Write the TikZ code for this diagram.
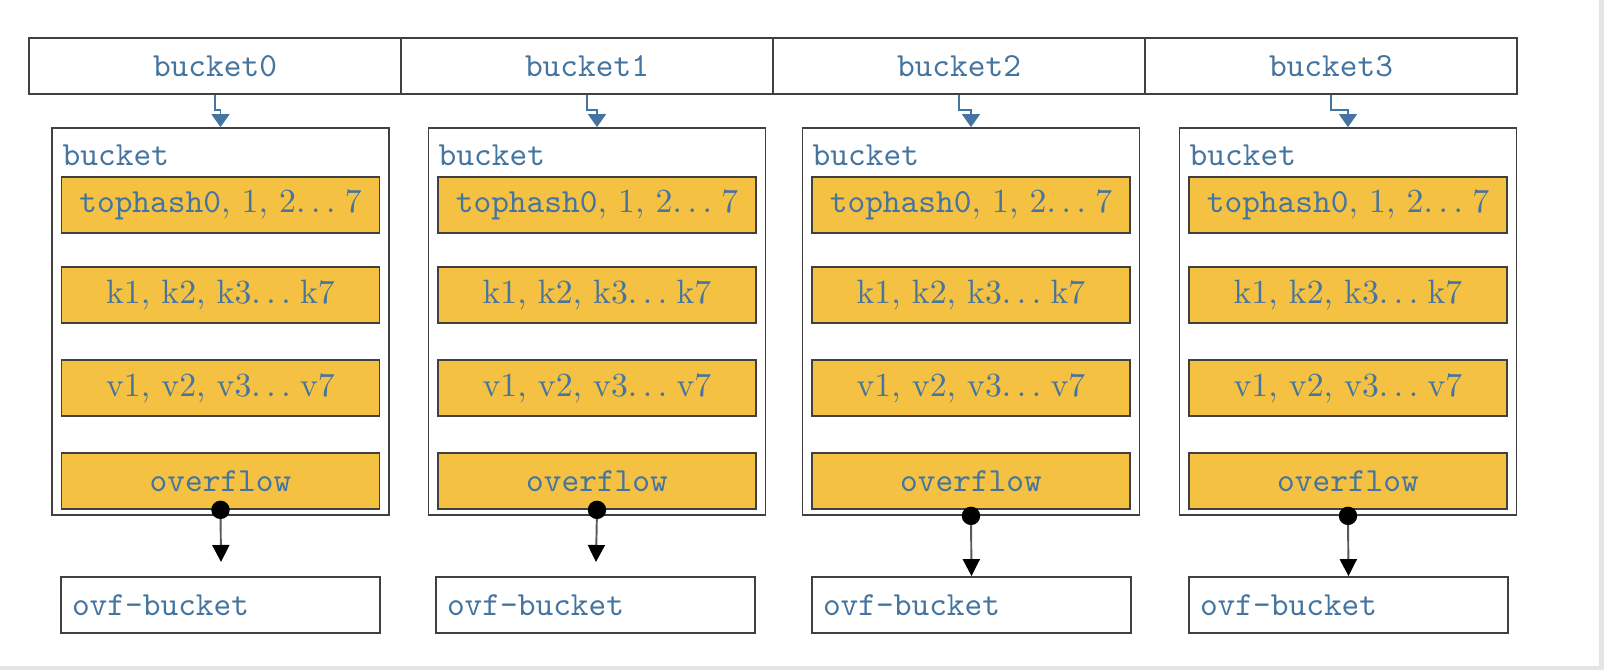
\documentclass[tikz,border=0pt]{standalone}
\usepackage{fontspec}
\usetikzlibrary{arrows.meta}
\definecolor{txtblue}{RGB}{68,116,160}
\definecolor{slotfill}{RGB}{244,193,66}
\definecolor{framegray}{RGB}{64,64,64}
\def\txtfont{\fontsize{9.6}{11}\selectfont}
\tikzset{
  cell/.style={draw=framegray, line width=0.5pt, minimum width=3.72cm, minimum height=0.56cm, inner sep=0pt, text=txtblue, font=\txtfont\ttfamily},
  bkt/.style={draw=framegray, line width=0.5pt, minimum width=3.37cm, minimum height=3.87cm, inner sep=0pt},
  slot/.style={draw=framegray, fill=slotfill, line width=0.5pt, minimum width=3.18cm, minimum height=0.56cm, inner sep=0pt, text=txtblue, font=\txtfont},
  ovf/.style={draw=framegray, line width=0.5pt, minimum width=3.19cm, minimum height=0.56cm, inner xsep=0.11cm, inner ysep=0pt, text width=2.97cm, align=left, text=txtblue, font=\txtfont\ttfamily},
  lbl/.style={anchor=west, inner sep=0pt, text=txtblue, font=\txtfont\ttfamily},
  ptr/.style={draw=txtblue, line width=0.45pt, -{Triangle[width=0.18cm,length=0.13cm]}},
  nxt/.style={draw=black!65, line width=0.55pt, -{Triangle[width=0.17cm,length=0.17cm,color=black]}},
  dot/.style={fill=black}
}
\begin{document}
\begin{tikzpicture}
			%%%%% START %%%%%
			\useasboundingbox (0, 0) rectangle (16.04, 6.70);
			\fill[white] (0, 0) rectangle (16.04, 6.70);
			\fill[black!10] (15.99, 0) rectangle (16.04, 6.70);
			\fill[black!10] (0, 0) rectangle (16.04, 0.04);
			
			% bucket array
			\node[cell] (c0) at (2.15, 6.04) {bucket0};
			\node[cell] (c1) at (5.87, 6.04) {bucket1};
			\node[cell] (c2) at (9.59, 6.04) {bucket2};
			\node[cell] (c3) at (13.31, 6.04) {bucket3};
			
			% bucket 0
			\node[bkt] (b0) at (2.205, 3.485) {};
			\node[lbl] (l0) at (0.62, 5.15) {bucket};
			\node[slot] (t0) at (2.205, 4.65) {\texttt{tophash0}, 1, 2.\,.\,.\;7};
			\node[slot] (k0) at (2.205, 3.75) {k1, k2, k3.\,.\,.\;k7};
			\node[slot] (v0) at (2.205, 2.82) {v1, v2, v3.\,.\,.\;v7};
			\node[slot] (f0) at (2.205, 1.89) {\ttfamily overflow};
			\node[ovf] (o0) at (2.205, 0.65) {ovf-bucket};
			
			% bucket 1
			\node[bkt] (b1) at (5.97, 3.485) {};
			\node[lbl] (l1) at (4.38, 5.15) {bucket};
			\node[slot] (t1) at (5.97, 4.65) {\texttt{tophash0}, 1, 2.\,.\,.\;7};
			\node[slot] (k1) at (5.97, 3.75) {k1, k2, k3.\,.\,.\;k7};
			\node[slot] (v1) at (5.97, 2.82) {v1, v2, v3.\,.\,.\;v7};
			\node[slot] (f1) at (5.97, 1.89) {\ttfamily overflow};
			\node[ovf] (o1) at (5.955, 0.65) {ovf-bucket};
			
			% bucket 2
			\node[bkt] (b2) at (9.71, 3.485) {};
			\node[lbl] (l2) at (8.12, 5.15) {bucket};
			\node[slot] (t2) at (9.71, 4.65) {\texttt{tophash0}, 1, 2.\,.\,.\;7};
			\node[slot] (k2) at (9.71, 3.75) {k1, k2, k3.\,.\,.\;k7};
			\node[slot] (v2) at (9.71, 2.82) {v1, v2, v3.\,.\,.\;v7};
			\node[slot] (f2) at (9.71, 1.89) {\ttfamily overflow};
			\node[ovf] (o2) at (9.715, 0.65) {ovf-bucket};
			
			% bucket 3
			\node[bkt] (b3) at (13.48, 3.485) {};
			\node[lbl] (l3) at (11.89, 5.15) {bucket};
			\node[slot] (t3) at (13.48, 4.65) {\texttt{tophash0}, 1, 2.\,.\,.\;7};
			\node[slot] (k3) at (13.48, 3.75) {k1, k2, k3.\,.\,.\;k7};
			\node[slot] (v3) at (13.48, 2.82) {v1, v2, v3.\,.\,.\;v7};
			\node[slot] (f3) at (13.48, 1.89) {\ttfamily overflow};
			\node[ovf] (o3) at (13.485, 0.65) {ovf-bucket};
			
			% array -> bucket
			\draw[ptr] (c0.south) -- ++(0, -0.15) -| (b0.north);
			\draw[ptr] (c1.south) -- ++(0, -0.15) -| (b1.north);
			\draw[ptr] (c2.south) -- ++(0, -0.15) -| (b2.north);
			\draw[ptr] (c3.south) -- ++(0, -0.15) -| (b3.north);
			
			% overflow -> ovf-bucket
			\coordinate (e0) at (2.21, 1.08);
			\coordinate (e1) at (5.96, 1.08);
			\draw[nxt] (f0.south) -- (e0);
			\draw[dot] (f0.south) circle (0.085);
			\draw[nxt] (f1.south) -- (e1);
			\draw[dot] (f1.south) circle (0.085);
			\draw[nxt] (b2.south) -- (o2.north);
			\draw[dot] (b2.south) circle (0.085);
			\draw[nxt] (b3.south) -- (o3.north);
			\draw[dot] (b3.south) circle (0.085);
			
			%%%%% END %%%%%
\end{tikzpicture}
\end{document}
